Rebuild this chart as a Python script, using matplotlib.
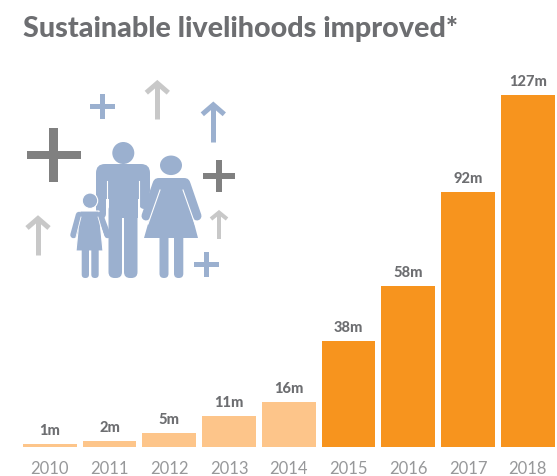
import matplotlib
matplotlib.use('Agg')
import matplotlib.pyplot as plt
from matplotlib.patches import Circle, Ellipse, Polygon, Rectangle, FancyBboxPatch

years = ['2010', '2011', '2012', '2013', '2014', '2015', '2016', '2017', '2018']
values = [1, 2, 5, 11, 16, 38, 58, 92, 127]
labels = ['1m', '2m', '5m', '11m', '16m', '38m', '58m', '92m', '127m']
LIGHT = '#fdc58a'
ORANGE = '#f7941e'
colors = [LIGHT] * 5 + [ORANGE] * 4

TEXT = '#6d6e71'
BLUE = '#9bb0cf'
DARK = '#808080'
PALE = '#c8c8c8'
W, H = 557, 477

plt.rcParams['font.family'] = ['Lato', 'DejaVu Sans']
fig = plt.figure(figsize=(W / 100, H / 100), dpi=100, facecolor='white')

# ── Bars ─────────────────────────────────────────────────────
ax = fig.add_axes([19.9 / W, (H - 447.5) / H, 537.8 / W, 352 / H])
ax.bar(range(len(years)), values, width=0.9, color=colors)
ax.set_xlim(-0.5, 8.5)
ax.set_ylim(0, 127)
for s in ax.spines.values():
    s.set_visible(False)
ax.yaxis.set_visible(False)
ax.patch.set_alpha(0)
ax.set_xticks(range(len(years)), years)
ax.tick_params(axis='x', length=0, pad=9.5, labelsize=12, labelcolor='#97989a')
for x, v, t in zip(range(len(years)), values, labels):
    ax.annotate(t, (x, v), xytext=(0, 5), textcoords='offset points', ha='center', va='bottom',
                fontsize=10.5, fontweight='black', color=TEXT, annotation_clip=False)

# ── Overlay in pixel coordinates for title and icon ──────────
ov = fig.add_axes([0, 0, 1, 1])
ov.set_xlim(0, W)
ov.set_ylim(H, 0)
ov.axis('off')
ov.patch.set_alpha(0)
ov.text(23, 29, 'Sustainable livelihoods improved*', fontsize=20.7, fontweight='black',
        color=TEXT, va='center', ha='left')


def plus(cx, cy, half, thick, color):
    ov.add_patch(Rectangle((cx - half, cy - thick / 2), 2 * half, thick, fc=color, lw=0))
    ov.add_patch(Rectangle((cx - thick / 2, cy - half), thick, 2 * half, fc=color, lw=0))


def arrow(x, tip, bottom, wing, thick, color):
    ov.plot([x, x], [tip + 2, bottom], color=color, lw=thick * 0.72, solid_capstyle='butt')
    ov.plot([x - wing, x, x + wing], [tip + wing, tip + 1.5, tip + wing], color=color,
            lw=thick * 0.72, solid_capstyle='butt', solid_joinstyle='miter')


def limb(xs, ys, width, color=BLUE, z=3):
    ov.plot(xs, ys, color=color, lw=width * 0.72, solid_capstyle='round', zorder=z)


def rbox(x0, y0, x1, y1, r, color=BLUE, z=3):
    ov.add_patch(FancyBboxPatch((x0 + r, y0 + r), x1 - x0 - 2 * r, y1 - y0 - 2 * r,
                                boxstyle=f'round,pad={r}', fc=color, ec='none', zorder=z))


plus(53.5, 156, 27, 8.5, DARK)
plus(102.5, 107.5, 12.5, 5, BLUE)
plus(219, 177, 16, 5.5, DARK)
plus(206.7, 265, 12.5, 5, BLUE)
arrow(157.3, 82.7, 120, 11, 5, PALE)
arrow(213.3, 104.3, 142.7, 11, 5, BLUE)
arrow(38, 218, 255.7, 11, 5, PALE)
arrow(219, 212, 240, 8, 4, PALE)

# man
ov.add_patch(Circle((123.3, 154), 11, fc=BLUE, ec='none', zorder=3))
rbox(96, 165, 150, 200, 9)
ov.add_patch(Rectangle((108.5, 185), 29, 34, fc=BLUE, lw=0, zorder=3))
limb([101, 101], [180, 215], 10)
limb([144, 144], [180, 205], 10)
ov.plot([107, 107], [182, 215], color='white', lw=0.8, zorder=3.2)
ov.plot([139, 139], [182, 215], color='white', lw=0.8, zorder=3.2)
rbox(108.5, 205, 122, 279, 6)
rbox(124, 205, 137.5, 279, 6)

# woman
ov.add_patch(Ellipse((171, 166.3), 22, 19.5, fc=BLUE, ec='none', zorder=4))
rbox(153, 179, 190, 200, 6, z=4)
ov.add_patch(Polygon([(158, 190), (185, 190), (198, 239), (144, 239)], fc=BLUE, lw=0, zorder=4))
limb([157, 146], [185, 217], 9, z=4)
limb([186, 197], [185, 217], 9, z=4)
ov.plot([160, 148], [191, 225], color='white', lw=0.8, zorder=4.2)
ov.plot([183, 195], [191, 225], color='white', lw=0.8, zorder=4.2)
rbox(159.5, 230, 168.5, 279, 4.4, z=4)
rbox(174, 230, 183.3, 279, 4.4, z=4)

# child
ov.add_patch(Circle((90, 201.7), 7.7, fc=BLUE, ec='white', lw=0.8, zorder=5))
ov.add_patch(Polygon([(80, 212), (99, 212), (103, 252), (76, 252)], fc=BLUE, ec='white', lw=0.8, zorder=5))
limb([79, 73.5], [216, 236], 6.5, z=5)
limb([100, 107.5], [216, 236], 6.5, z=5)
ov.plot([81, 76], [218, 238], color='white', lw=0.6, zorder=5.2)
ov.plot([98, 104], [218, 238], color='white', lw=0.6, zorder=5.2)
rbox(81.7, 248, 89, 279, 3.5, z=5)
rbox(91.3, 248, 98.7, 279, 3.5, z=5)

fig.savefig('out.png', dpi=100)
